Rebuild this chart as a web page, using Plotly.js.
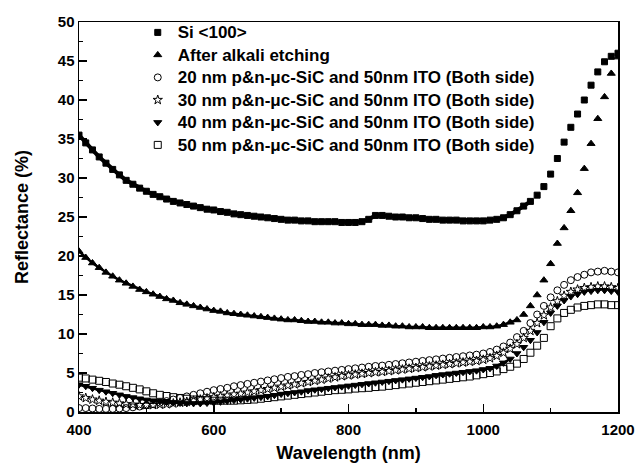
<!DOCTYPE html>
<html>
<head>
<meta charset="utf-8">
<script src="https://cdn.plot.ly/plotly-3.0.1.min.js"></script>
<style>html,body{margin:0;padding:0;background:#fff}#chart{width:635px;height:466px}</style>
</head>
<body>
<div id="chart"></div>
<script>
const wavelength = [400,410,420,430,440,450,460,470,480,490,500,510,520,530,540,550,560,570,580,590,600,610,620,630,640,650,660,670,680,690,700,710,720,730,740,750,760,770,780,790,800,810,820,830,840,850,860,870,880,890,900,910,920,930,940,950,960,970,980,990,1000,1010,1020,1030,1040,1050,1060,1070,1080,1090,1100,1110,1120,1130,1140,1150,1160,1170,1180,1190,1200];

const si100 = [35.5,34.5,33.6,32.7,31.9,31.1,30.4,29.7,29.2,28.7,28.3,27.9,27.6,27.3,27.0,26.8,26.6,26.4,26.2,26.0,25.9,25.7,25.6,25.4,25.3,25.2,25.1,25.0,24.9,24.8,24.7,24.6,24.6,24.5,24.5,24.4,24.4,24.4,24.4,24.3,24.3,24.3,24.4,24.7,25.2,25.2,25.1,25.0,25.0,24.9,24.9,24.8,24.7,24.7,24.6,24.6,24.6,24.5,24.5,24.5,24.5,24.6,24.7,24.9,25.3,25.8,26.4,27.0,27.8,28.9,30.5,32.5,34.6,36.5,38.2,40.0,41.9,43.6,44.9,45.6,46.0];

const alkali = [20.6,19.8,19.1,18.5,17.9,17.4,16.9,16.5,16.1,15.7,15.4,15.1,14.8,14.5,14.3,14.0,13.8,13.6,13.4,13.2,13.0,12.9,12.7,12.6,12.5,12.4,12.3,12.2,12.1,12.0,11.9,11.8,11.8,11.7,11.6,11.6,11.5,11.5,11.4,11.4,11.3,11.3,11.2,11.2,11.2,11.1,11.1,11.0,11.0,10.9,10.9,10.9,10.8,10.8,10.8,10.8,10.8,10.8,10.8,10.8,10.9,10.9,11.0,11.2,11.5,11.8,12.5,13.6,15.0,16.9,19.0,21.6,23.6,25.8,28.1,31.2,34.4,37.6,40.4,43.4,45.5];

const sic20 = [0.5,0.5,0.45,0.4,0.4,0.4,0.45,0.5,0.6,0.7,0.85,1.0,1.2,1.4,1.6,1.8,2.0,2.2,2.4,2.6,2.8,2.95,3.1,3.3,3.45,3.6,3.75,3.9,4.05,4.2,4.35,4.5,4.6,4.75,4.85,5.0,5.1,5.2,5.3,5.4,5.5,5.6,5.7,5.8,5.9,5.95,6.05,6.15,6.25,6.35,6.45,6.55,6.65,6.75,6.85,6.95,7.05,7.15,7.25,7.35,7.5,7.7,8.0,8.4,8.9,9.6,10.4,11.4,12.5,13.6,14.7,15.6,16.3,16.9,17.3,17.6,17.9,18.0,18.1,18.0,17.9];

const sic30 = [2.0,1.8,1.6,1.45,1.3,1.2,1.1,1.0,0.95,0.9,0.9,0.9,0.95,1.0,1.1,1.2,1.3,1.45,1.6,1.75,1.9,2.0,2.1,2.25,2.35,2.5,2.65,2.8,2.95,3.1,3.25,3.4,3.55,3.7,3.85,4.0,4.15,4.3,4.45,4.6,4.7,4.8,4.9,5.0,5.1,5.15,5.25,5.35,5.45,5.55,5.65,5.75,5.85,5.95,6.05,6.15,6.25,6.35,6.45,6.55,6.7,6.9,7.2,7.6,8.1,8.7,9.5,10.4,11.4,12.4,13.4,14.2,14.9,15.4,15.7,15.9,16.0,16.1,16.1,16.0,15.9];

const sic40 = [3.5,3.3,3.05,2.8,2.6,2.4,2.2,2.0,1.85,1.7,1.55,1.45,1.35,1.25,1.2,1.15,1.1,1.1,1.1,1.15,1.2,1.3,1.4,1.5,1.6,1.7,1.8,1.9,2.0,2.15,2.3,2.4,2.5,2.6,2.75,2.85,2.95,3.05,3.15,3.25,3.35,3.45,3.55,3.65,3.75,3.85,3.95,4.05,4.15,4.25,4.35,4.45,4.55,4.7,4.8,4.9,5.0,5.1,5.2,5.3,5.45,5.6,5.9,6.3,6.8,7.5,8.3,9.2,10.2,11.5,12.7,13.6,14.3,14.8,15.1,15.4,15.5,15.6,15.6,15.5,15.4];

const sic50 = [4.4,4.3,4.15,4.0,3.85,3.65,3.5,3.3,3.1,2.9,2.65,2.4,2.2,2.05,1.9,1.8,1.7,1.6,1.55,1.5,1.45,1.45,1.45,1.45,1.5,1.55,1.6,1.7,1.8,1.9,2.0,2.1,2.2,2.3,2.4,2.5,2.6,2.7,2.8,2.85,2.9,3.0,3.05,3.1,3.2,3.25,3.35,3.45,3.55,3.65,3.75,3.85,3.95,4.05,4.15,4.25,4.35,4.45,4.55,4.7,4.85,5.0,5.2,5.5,5.8,6.2,6.8,7.6,8.5,9.5,11.0,12.0,12.7,13.1,13.4,13.6,13.7,13.8,13.8,13.7,13.7];

const seriesNames = [
  "Si <100>",
  "After alkali etching",
  "20 nm p&n-\u03bcc-SiC and 50nm ITO (Both side)",
  "30 nm p&n-\u03bcc-SiC and 50nm ITO (Both side)",
  "40 nm p&n-\u03bcc-SiC and 50nm ITO (Both side)",
  "50 nm p&n-\u03bcc-SiC and 50nm ITO (Both side)"
];
const seriesValues = [si100, alkali, sic20, sic30, sic40, sic50];
const symbols = ["square", "triangle-up", "circle-open", "star-open", "triangle-down", "square-open"];
const sizes = [6, 7, 7, 7, 7, 7];
// band style: width of a continuous stroke under densely packed filled markers,
// and wavelength up to which the marks merge into a band in the reference
const bandWidths = [4, 2.5, 0, 0, 2.5, 0];
const bandUntil = [1070, 1050, 0, 0, 1040, 0];

const FONT = "Liberation Sans, Arial, Helvetica, sans-serif";

const escapeHtml = s => s.replace(/&/g, "&amp;").replace(/</g, "&lt;").replace(/>/g, "&gt;");

const traces = [];
seriesValues.forEach((vals, i) => {
  if (bandWidths[i] > 0) {
    const n = wavelength.filter(w => w <= bandUntil[i]).length;
    traces.push({
      x: wavelength.slice(0, n), y: vals.slice(0, n), type: "scatter", mode: "lines",
      line: {color: "#000", width: bandWidths[i]},
      showlegend: false, hoverinfo: "skip"
    });
  }
});
seriesValues.forEach((vals, i) => {
  traces.push({
    x: wavelength,
    y: vals,
    name: '<span style="font-size:17px">' + escapeHtml(seriesNames[i]) + '</span>',
    type: "scatter",
    mode: "markers",
    marker: {
      symbol: symbols[i],
      size: sizes[i],
      color: "#000",
      line: {color: "#000", width: 1}
    }
  });
});

const axisCommon = {
  showgrid: false,
  zeroline: false,
  showline: true,
  linecolor: "#000",
  linewidth: 1.5,
  mirror: true,
  ticks: "inside",
  ticklen: 8,
  tickwidth: 1.5,
  tickcolor: "#000",
  tickfont: {family: FONT, size: 15, color: "#000", weight: "bold"}
};

const layout = {
  width: 635,
  height: 466,
  margin: {l: 79, r: 17, t: 22, b: 54},
  paper_bgcolor: "#fff",
  plot_bgcolor: "#fff",
  showlegend: true,
  legend: {
    x: 0.109, y: 1.015, xanchor: "left", yanchor: "top",
    bgcolor: "rgba(0,0,0,0)",
    font: {family: FONT, size: 15, color: "#000", weight: "bold"},
    tracegroupgap: 0,
    itemsizing: "trace"
  },
  xaxis: Object.assign({}, axisCommon, {
    range: [400, 1200],
    tick0: 400,
    dtick: 200,
    ticklabelstandoff: 3,
    minor: {dtick: 100, ticks: "inside", ticklen: 4, tickwidth: 1.5, tickcolor: "#000"},
    title: {text: "Wavelength (nm)", font: {family: FONT, size: 18, color: "#000", weight: "bold"}, standoff: 10}
  }),
  yaxis: Object.assign({}, axisCommon, {
    range: [0, 50],
    tick0: 0,
    dtick: 5,
    minor: {dtick: 2.5, ticks: "inside", ticklen: 4, tickwidth: 1.5, tickcolor: "#000"},
    title: {text: "Reflectance (%)", font: {family: FONT, size: 18, color: "#000", weight: "bold"}, standoff: 24}
  })
};

Plotly.newPlot("chart", traces, layout, {displayModeBar: false, staticPlot: true});
</script>
</body>
</html>
